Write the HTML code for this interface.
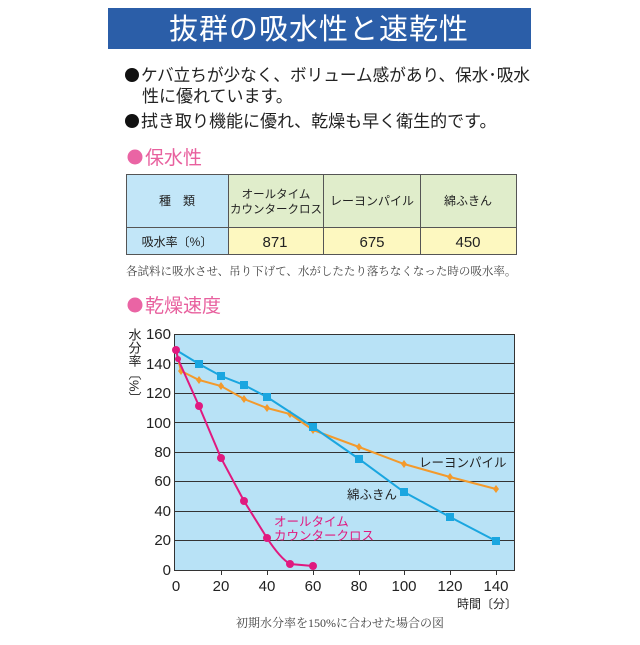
<!DOCTYPE html>
<html><head><meta charset="utf-8"><style>
body{margin:0;background:#fff;}
svg text{font-family:"Liberation Sans","Noto Sans CJK JP",sans-serif;}
.s{font-family:"Liberation Serif","Noto Serif CJK SC",serif !important;}
</style></head><body>
<svg width="640" height="640" viewBox="0 0 640 640" xmlns="http://www.w3.org/2000/svg">
<rect x="108" y="8" width="423" height="41" fill="#2b5ea8"/>
<text x="319" y="39" font-size="29" fill="#fff" text-anchor="middle" letter-spacing="1">抜群の吸水性と速乾性</text>
<circle cx="132" cy="75" r="7" fill="#111"/>
<text x="141" y="81" font-size="17" fill="#222" textLength="389" lengthAdjust="spacingAndGlyphs">ケバ立ちが少なく、ボリューム感があり、保水･吸水</text>
<text x="142" y="102" font-size="17" fill="#222">性に優れています。</text>
<circle cx="132" cy="121" r="7" fill="#111"/>
<text x="141" y="127" font-size="17" fill="#222">拭き取り機能に優れ、乾燥も早く衛生的です。</text>
<circle cx="135" cy="157" r="7.5" fill="#ea64a4"/>
<text x="145" y="164" font-size="19" fill="#e8609e">保水性</text>
<!-- table -->
<rect x="126" y="174" width="102" height="81" fill="#c2e6f8"/>
<rect x="228" y="174" width="289" height="53" fill="#e0edcb"/>
<rect x="228" y="227" width="289" height="28" fill="#fdf8c0"/>
<g stroke="#555" stroke-width="1" fill="none">
<rect x="126.5" y="174.5" width="390" height="80"/>
<line x1="126" y1="227.5" x2="517" y2="227.5"/>
<line x1="228.5" y1="174" x2="228.5" y2="255"/>
<line x1="323.5" y1="174" x2="323.5" y2="255"/>
<line x1="420.5" y1="174" x2="420.5" y2="255"/>
</g>
<g font-size="12" fill="#222" text-anchor="middle">
<text x="177" y="205">種　類</text>
<text x="276" y="198" font-size="11.5">オールタイム</text>
<text x="276" y="213" font-size="11.5">カウンタークロス</text>
<text x="372" y="205">レーヨンパイル</text>
<text x="468" y="205">綿ふきん</text>
<text x="177" y="246">吸水率〔%〕</text>
<text x="275" y="247" font-size="15">871</text>
<text x="372" y="247" font-size="15">675</text>
<text x="468" y="247" font-size="15">450</text>
</g>
<text x="126" y="275" font-size="11.5" fill="#444" class="s">各試料に吸水させ、吊り下げて、水がしたたり落ちなくなった時の吸水率。</text>
<circle cx="135" cy="305" r="7.5" fill="#ea64a4"/>
<text x="145" y="312" font-size="19" fill="#e8609e">乾燥速度</text>
<!-- chart -->
<rect x="174" y="334" width="341" height="236" fill="#b8e2f6"/>
<g stroke="#333" stroke-width="1">
<line x1="174" y1="363.5" x2="515" y2="363.5"/>
<line x1="174" y1="393.5" x2="515" y2="393.5"/>
<line x1="174" y1="422.5" x2="515" y2="422.5"/>
<line x1="174" y1="452.5" x2="515" y2="452.5"/>
<line x1="174" y1="481.5" x2="515" y2="481.5"/>
<line x1="174" y1="511.5" x2="515" y2="511.5"/>
<line x1="174" y1="540.5" x2="515" y2="540.5"/>
</g>
<rect x="174.5" y="334.5" width="340" height="236" fill="none" stroke="#333"/>
<g stroke="#333">
<line x1="221.5" y1="570" x2="221.5" y2="575"/><line x1="267.5" y1="570" x2="267.5" y2="575"/>
<line x1="313.5" y1="570" x2="313.5" y2="575"/><line x1="359.5" y1="570" x2="359.5" y2="575"/>
<line x1="404.5" y1="570" x2="404.5" y2="575"/><line x1="450.5" y1="570" x2="450.5" y2="575"/>
<line x1="496.5" y1="570" x2="496.5" y2="575"/>
</g>
<g font-size="15" fill="#222" text-anchor="end">
<text x="171" y="339">160</text><text x="171" y="369">140</text><text x="171" y="398">120</text>
<text x="171" y="428">100</text><text x="171" y="457">80</text><text x="171" y="486">60</text>
<text x="171" y="516">40</text><text x="171" y="545">20</text><text x="171" y="575">0</text>
</g>
<g font-size="15" fill="#222" text-anchor="middle">
<text x="176" y="591">0</text><text x="221" y="591">20</text><text x="267" y="591">40</text>
<text x="313" y="591">60</text><text x="359" y="591">80</text><text x="404" y="591">100</text>
<text x="450" y="591">120</text><text x="496" y="591">140</text>
</g>
<text x="134" y="328" font-size="13" fill="#222" writing-mode="tb" glyph-orientation-vertical="0">水分率〔%〕</text>
<text x="457" y="608" font-size="12" fill="#222">時間〔分〕</text>
<text x="236" y="627" font-size="12" fill="#444" class="s">初期水分率を150%に合わせた場合の図</text>
<!-- series -->
<polyline fill="none" stroke="#f39a2c" stroke-width="2" points="176,350 181,371 199,380 221,386 244,399 267,408 290,414 313,430 359,447 404,464 450,477 496,489"/>
<g fill="#f39a2c">
<path d="M181,367l3,4l-3,4l-3,-4z"/><path d="M199,376l3,4l-3,4l-3,-4z"/><path d="M221,382l3,4l-3,4l-3,-4z"/>
<path d="M244,395l3,4l-3,4l-3,-4z"/><path d="M267,404l3,4l-3,4l-3,-4z"/><path d="M290,410l3,4l-3,4l-3,-4z"/>
<path d="M313,426l3,4l-3,4l-3,-4z"/><path d="M359,443l3,4l-3,4l-3,-4z"/><path d="M404,460l3,4l-3,4l-3,-4z"/>
<path d="M450,473l3,4l-3,4l-3,-4z"/><path d="M496,485l3,4l-3,4l-3,-4z"/>
</g>
<polyline fill="none" stroke="#1aa6e0" stroke-width="2" points="176,350 199,364 221,376 244,385 267,397 313,427 359,459 404,492 450,517 496,541"/>
<g fill="#1aa6e0">
<rect x="195" y="360" width="8" height="8"/><rect x="217" y="372" width="8" height="8"/><rect x="240" y="381" width="8" height="8"/>
<rect x="263" y="393" width="8" height="8"/><rect x="309" y="423" width="8" height="8"/><rect x="355" y="455" width="8" height="8"/>
<rect x="400" y="488" width="8" height="8"/><rect x="446" y="513" width="8" height="8"/><rect x="492" y="537" width="8" height="8"/>
</g>
<path fill="none" stroke="#e0197f" stroke-width="2" d="M176,350 L178,359 L199,406 L221,458 L244,501 L267,538 Q280,558 290,564 L313,566"/>
<g fill="#e0197f">
<circle cx="176" cy="350" r="4"/><circle cx="178" cy="359" r="3"/><circle cx="199" cy="406" r="4"/>
<circle cx="221" cy="458" r="4"/><circle cx="244" cy="501" r="4"/><circle cx="267" cy="538" r="4"/>
<circle cx="290" cy="564" r="4"/><circle cx="313" cy="566" r="4"/>
</g>
<text x="419" y="467" font-size="12.5" fill="#222">レーヨンパイル</text>
<text x="347" y="499" font-size="12.5" fill="#222">綿ふきん</text>
<text x="274" y="526" font-size="12.5" fill="#e0197f">オールタイム</text>
<text x="274" y="540" font-size="12.5" fill="#e0197f">カウンタークロス</text>
</svg>
</body></html>
